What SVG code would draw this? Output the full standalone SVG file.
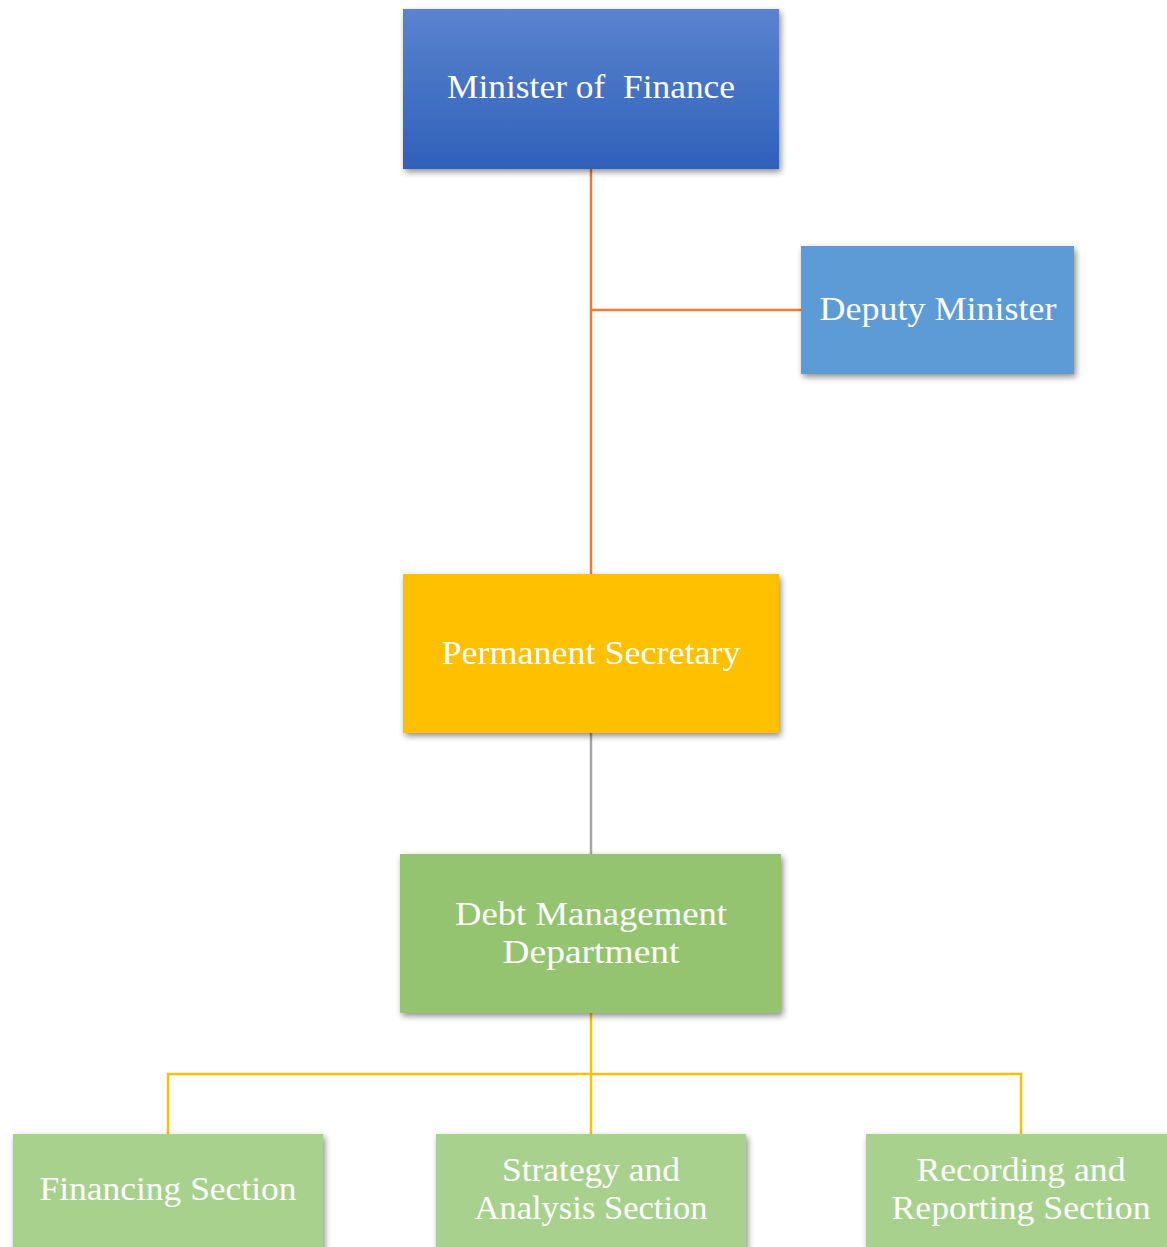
<svg xmlns="http://www.w3.org/2000/svg" width="1167" height="1247" viewBox="0 0 1167 1247">
<style>
.lbl{font-family:"Liberation Serif","DejaVu Serif",serif;font-size:33px;fill:#ffffff;text-anchor:middle}
.conn{fill:none;stroke-width:2.5}
</style>
<defs>
<linearGradient id="gBlue" x1="0" y1="0" x2="0" y2="1">
<stop offset="0" stop-color="#5B83CE"/>
<stop offset="1" stop-color="#2F61BA"/>
</linearGradient>
<filter id="sh" x="-10%" y="-10%" width="125%" height="130%">
<feGaussianBlur in="SourceAlpha" stdDeviation="3"/>
<feOffset dx="2" dy="3" result="b"/>
<feComponentTransfer><feFuncA type="linear" slope="0.45"/></feComponentTransfer>
<feMerge><feMergeNode/><feMergeNode in="SourceGraphic"/></feMerge>
</filter>
</defs>
<rect width="1167" height="1247" fill="#ffffff"/>
<g id="connectors">
<path class="conn" stroke="#ED7D31" d="M591,169 V574 M591,310 H801"/>
<path class="conn" stroke="#A5A5A5" d="M591,733 V854"/>
<path class="conn" stroke="#FFC000" d="M591,1013 V1134 M168,1134 V1074 H1021 V1134"/>
</g>
<g id="minister">
<rect x="403" y="9" width="376" height="160" fill="url(#gBlue)" filter="url(#sh)"/>
<text class="lbl" x="591" y="98" textLength="288" lengthAdjust="spacingAndGlyphs">Minister of&#160; Finance</text>
</g>
<g id="deputy">
<rect x="801" y="246" width="273" height="128" fill="#5B9BD5" filter="url(#sh)"/>
<text class="lbl" x="938" y="320" textLength="237" lengthAdjust="spacingAndGlyphs">Deputy Minister</text>
</g>
<g id="permsec">
<rect x="403" y="574" width="376" height="159" fill="#FFC000" filter="url(#sh)"/>
<text class="lbl" x="591" y="664" textLength="299" lengthAdjust="spacingAndGlyphs">Permanent Secretary</text>
</g>
<g id="debt">
<rect x="400" y="854" width="381" height="159" fill="#94C46F" filter="url(#sh)"/>
<text class="lbl" x="591" y="925" textLength="272" lengthAdjust="spacingAndGlyphs">Debt Management</text>
<text class="lbl" x="591" y="963" textLength="177" lengthAdjust="spacingAndGlyphs">Department</text>
</g>
<g id="financing">
<rect x="13" y="1134" width="310" height="120" fill="#A9D18E" filter="url(#sh)"/>
<text class="lbl" x="168" y="1200" textLength="257" lengthAdjust="spacingAndGlyphs">Financing Section</text>
</g>
<g id="strategy">
<rect x="436" y="1134" width="310" height="120" fill="#A9D18E" filter="url(#sh)"/>
<text class="lbl" x="591" y="1181" textLength="178" lengthAdjust="spacingAndGlyphs">Strategy and</text>
<text class="lbl" x="591" y="1219" textLength="233" lengthAdjust="spacingAndGlyphs">Analysis Section</text>
</g>
<g id="recording">
<rect x="866" y="1134" width="310" height="120" fill="#A9D18E" filter="url(#sh)"/>
<text class="lbl" x="1021" y="1181" textLength="209" lengthAdjust="spacingAndGlyphs">Recording and</text>
<text class="lbl" x="1021" y="1219" textLength="259" lengthAdjust="spacingAndGlyphs">Reporting Section</text>
</g>
</svg>
